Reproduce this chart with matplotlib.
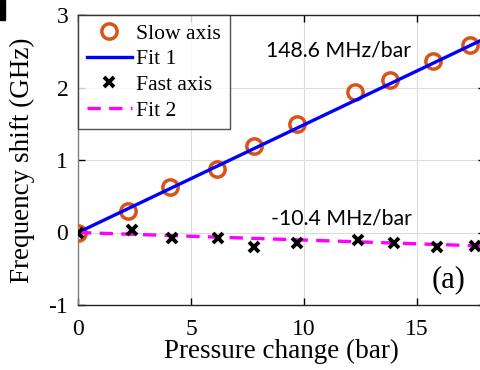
import numpy as np
import matplotlib.pyplot as plt
from matplotlib.patches import Rectangle

# slow axis measurements
p_slow = [0, 2.2, 4.07, 6.15, 7.8, 9.7, 12.25, 13.8, 15.7, 17.35]
f_slow = [0, 0.29, 0.63, 0.88, 1.19, 1.5, 1.94, 2.11, 2.36, 2.59]
# fast axis measurements
p_fast = [0, 2.4, 4.15, 6.2, 7.8, 9.7, 12.4, 14.0, 15.9, 17.55]
f_fast = [0, 0.03, -0.07, -0.08, -0.2, -0.14, -0.11, -0.14, -0.2, -0.19]
slope1 = 0.1486
slope2 = -0.0104
x_fit = np.array([0, 18.0])

plt.rcParams['font.family'] = 'Liberation Serif'

fig = plt.figure(figsize=(4.81, 3.70), dpi=100)
ax = fig.add_axes([78/481, 65/370, 406.8/481, 290/370])

ax.plot(p_slow, f_slow, 'o', ms=11, mfc='none', mec='#D95319', mew=2.5, label='Slow axis', zorder=3)
ax.plot(x_fit, slope1*x_fit, '-', color='#0000FF', lw=2.4, label='Fit 1', zorder=4)
ax.plot(p_fast, f_fast, 'x', ms=7, color='k', mew=2.8, label='Fast axis', zorder=5)
ax.plot(x_fit, slope2*x_fit, '--', color='#FF00FF', lw=2.4, dashes=(4, 2.5), label='Fit 2', zorder=4)

ax.set_xlim(0, 18)
ax.set_ylim(-1, 3)
ax.set_xticks([0, 5, 10, 15])
ax.set_yticks([-1, 0, 1, 2, 3])
ax.set_yticklabels(['-1', '0', '1', '2', '3'])
ax.grid(True, color='#DCDCDC', lw=0.8)
ax.set_axisbelow(True)
ax.tick_params(direction='in', labelsize=17, length=5, width=1, top=True, right=True)
ax.tick_params(axis='x', pad=10)
ax.tick_params(axis='y', pad=7)
for s in ax.spines.values():
    s.set_color('#262626')
    s.set_linewidth(1)
ax.spines['left'].set_color('#808080')

ax.set_xlabel('Pressure change (bar)', fontsize=19.5, labelpad=-1)
ax.set_ylabel('Frequency shift (GHz)', fontsize=19.5, labelpad=10)

ax.text(8.3, 2.51, '148.6 MHz/bar', fontsize=15.3, family='Lato', va='center')
ax.text(8.54, 0.19, '-10.4 MHz/bar', fontsize=15.3, family='Lato', va='center')
ax.text(16.4, -0.65, '(a)', fontsize=22, ha='center', va='center')

leg = ax.legend(loc='upper left', fontsize=15.6, frameon=True, fancybox=False,
                edgecolor='#262626', borderaxespad=0, handlelength=2.1,
                labelspacing=0.25, borderpad=0.4, handletextpad=0.2, numpoints=1)
leg.get_frame().set_linewidth(1)

fig.patches.append(Rectangle((0, 350/370), 5/481, 20/370, transform=fig.transFigure,
                             color='black', zorder=10))

fig.savefig('out.png', dpi=100)
